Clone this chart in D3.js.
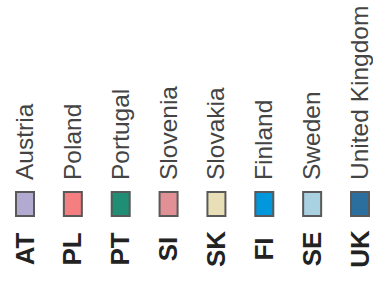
<!DOCTYPE html>
<html>
<head>
<meta charset="utf-8">
<script src="https://cdn.jsdelivr.net/npm/d3@7"></script>
<style>
  body { margin: 0; background: #fff; }
  svg { display: block; }
</style>
</head>
<body>
<svg></svg>
<script>
// legend data
var codes = ['AT', 'PL', 'PT', 'SI', 'SK', 'FI', 'SE', 'UK'];
var names = ['Austria', 'Poland', 'Portugal', 'Slovenia', 'Slovakia', 'Finland', 'Sweden', 'United Kingdom'];
var colors = ['#b3aad2', '#f47e80', '#1f8e74', '#e19095', '#e9dfb6', '#0097dc', '#a9d1e2', '#2b6f9f'];

var width = 373, height = 281;

var svg = d3.select('svg')
    .attr('width', width)
    .attr('height', height)
    .style('font-family', '"Liberation Sans", Arial, sans-serif');

// one column per country
var x = d3.scalePoint()
    .domain(codes)
    .range([25, 360]);

var item = svg.selectAll('g.item')
    .data(codes)
    .enter()
    .append('g')
    .attr('class', 'item')
    .attr('transform', function(d) { return 'translate(' + x(d) + ',0)'; });

// country code, bold, centred
item.append('text')
    .attr('transform', 'translate(8.5,249) rotate(-90)')
    .attr('text-anchor', 'middle')
    .style('font-size', '26px')
    .style('font-weight', 'bold')
    .attr('fill', '#222')
    .text(function(d) { return d; });

// colour swatch
item.append('rect')
    .attr('x', -9)
    .attr('y', 192)
    .attr('width', 18)
    .attr('height', 24)
    .attr('fill', function(d, i) { return colors[i]; })
    .attr('stroke', '#595959')
    .attr('stroke-width', 2);

// country name
item.append('text')
    .attr('transform', 'translate(8,180) rotate(-90)')
    .style('font-size', '24.5px')
    .attr('fill', '#444')
    .text(function(d, i) { return names[i]; });
</script>
</body>
</html>
